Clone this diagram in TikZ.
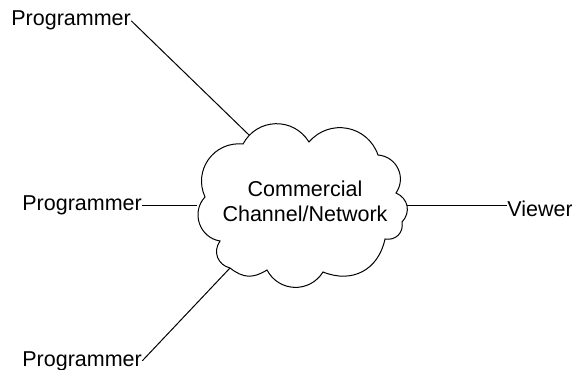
\documentclass[tikz,border=0pt]{standalone}
\usepackage{fontspec}
\setmainfont{Liberation Sans}
\begin{document}
\begin{tikzpicture}[x=0.5pt,y=0.5pt,
  lbl/.style={inner sep=0pt,font=\fontsize{10.75pt}{12.5pt}\selectfont},
  conn/.style={line width=0.5pt,black},
  puff/.style={bend left=#1,looseness=1.15},
  puff/.default=60]
\useasboundingbox (0,0) rectangle (572,369);
% cloud cusps (y up)
\coordinate (A) at (243,225);
\coordinate (B) at (309,227);
\coordinate (C) at (378,214);
\coordinate (D) at (396,176);
\coordinate (E) at (402,147);
\coordinate (F) at (385,130);
\coordinate (G) at (323,97);
\coordinate (H) at (267,99);
\coordinate (I) at (230,101);
\coordinate (J) at (220,128);
\coordinate (K) at (205,172);
\draw[conn] (A) to[puff] (B) to[puff] (C) to[puff] (D) to[puff=55] (E)
  to[puff=55] (F) to[puff=50] (G) to[puff] (H) to[puff=35] (I) to[puff=55] (J)
  to[puff=62] (K) to[puff] (A) -- cycle;
% attachment points on the cloud
\coordinate (ctop) at (249,234);
\coordinate (cleft) at (197,164);
\coordinate (cright) at (407,163);
\coordinate (cbot) at (I);
% texts in the cloud
\node[lbl,anchor=base] (t1) at (305,172) {Commercial};
\node[lbl,anchor=base] (t2) at (305,147) {Channel/Network};
% labels
\node[lbl,anchor=base west] (p1) at (11,343) {Programmer};
\node[lbl,anchor=base west] (p2) at (22,158) {Programmer};
\node[lbl,anchor=base west] (p3) at (22,3) {Programmer};
\node[lbl,anchor=base west] (v) at (507,152) {Viewer};
% connectors
\draw[conn] (p1.east) -- (ctop);
\draw[conn] (p2.east) -- (p2.east -| cleft);
\draw[conn] (p3.east) -- (cbot);
\draw[conn] (cright) -- (cright -| v.west);
\end{tikzpicture}
\end{document}
